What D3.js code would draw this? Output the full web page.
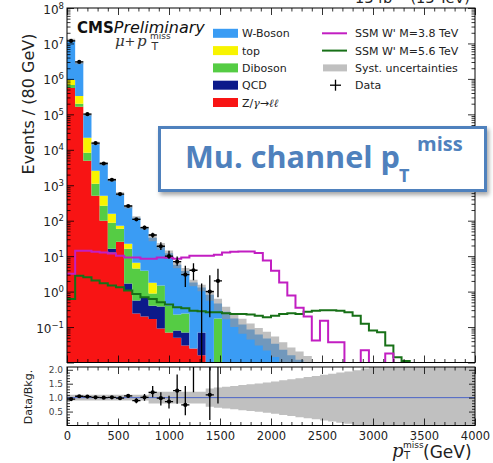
<!DOCTYPE html>
<html>
<head>
<meta charset="utf-8">
<script src="https://cdn.jsdelivr.net/npm/d3@7"></script>
<style>
  body { margin: 0; background: #fff; }
  svg { display: block; }
</style>
</head>
<body>
<svg id="chart" width="493" height="463"></svg>
<script>
// 80 GeV bins from 0 to 4000 GeV
var binW = 80, nBins = 50;
var binEdges = d3.range(nBins + 1).map(function(i) { return i * binW; });

// stacked backgrounds (events / bin), bins past the end of a list are empty
var zll  = [557000, 163000, 4900, 506, 100, 12.6, 25.6, 1.07, 0.24, 0.20, 0.17, 0.091, 0.070, 0.050, 0.030, 0.025, 0.016];
var qcd  = [0, 0, 0, 0, 0, 3.7, 0, 0.61, 0.32, 0.48, 0.23, 0.29, 0, 0.03, 0.04, 0, 0.054];
var dib  = [120000, 35000, 3300, 596, 165, 71.5, 33.9, 14.6, 3.9, 3.2, 0.48, 1.10, 0.33, 0.145, 0.17, 0, 0, 0, 0.174];
var topq = [260000, 134000, 13600, 1460, 241, 69, 12.8, 6.2, 2.1, 0, 0.91];
var wbos = [11450000, 2540000, 75700, 12700, 3600, 1250, 504, 222, 115, 58.8, 31.4, 17.8, 11.6, 5.54, 3.56,
            1.77, 1.23, 0.82, 0.285, 0.27, 0.174, 0.118, 0.085, 0.062, 0.0475, 0.034, 0.023, 0.016, 0.012, 0.0088];

// signal shapes
var sigM38 = [3.2, 14.3, 14.3, 13.4, 12.6, 11.8, 10.3, 9.1, 9.1, 8.5,
              8.5, 9.1, 9.0, 8.5, 9.1, 10.3, 10.3, 10.3, 11.0, 12.6,
              13.4, 13.6, 13.6, 12.2, 7.5, 3.9, 1.8, 0.77, 0.35, 0.20,
              0.042, 0.15, 0.037, 0.037, 0, 0, 0.022, 0, 0, 0.018,
              0, 0, 0, 0, 0, 0, 0, 0, 0, 0];
var sigM56 = [0.62, 2.8, 2.53, 2.04, 1.71, 1.48, 1.32, 1.07, 0.86, 0.69,
              0.62, 0.50, 0.43, 0.36, 0.34, 0.29, 0.28, 0.26, 0.26, 0.245,
              0.235, 0.235, 0.225, 0.21, 0.19, 0.21, 0.235, 0.245, 0.235, 0.27,
              0.29, 0.30, 0.30, 0.29, 0.26, 0.21, 0.123, 0.080, 0.071, 0.030,
              0.014, 0.011, 0, 0, 0, 0, 0, 0, 0, 0];

// data with error bar ends
var dataVals = [11750000, 3010000, 101000, 15450, 4110, 1430, 565, 260, 109, 63.5, 39.5, 19, 10, 7, 3, 4, 0, 1, 2];
var dataHi   = [11753400, 3011700, 101320, 15575, 4175, 1468, 589, 276, 119.5, 71.5, 46, 24.5, 14.3, 9.7, 5.4, 6.3, 1.7, 2.9, 4.4];
var dataLo   = [11746600, 3008300, 100680, 15325, 4045, 1392, 541, 244, 98.5, 55.5, 33, 15, 8.5, 5.4, 1.35, 2.1, 0, 0.19, 0.69];

// ratio panel
var ratioVals = [0.95, 1.05, 1.04, 1.01, 1.00, 1.01, 0.98, 1.06, 0.89, 1.01, 1.19, 0.98, 0.86, 1.25, 0.74, 2.26, null, 1.10, 4.2];
var ratioHi   = [0.96, 1.06, 1.05, 1.02, 1.02, 1.04, 1.03, 1.13, 0.98, 1.13, 1.42, 1.19, 1.07, 1.83, 1.42, 3.6, null, 3.4, 9.6];
var ratioLo   = [0.94, 1.04, 1.03, 1.00, 0.98, 0.98, 0.93, 0.99, 0.80, 0.89, 1.01, 0.72, 0.61, 0.78, 0.37, 1.19, null, 0.20, 0.79];

// relative systematic uncertainty per bin
var systRel = [0.10, 0.10, 0.10, 0.10, 0.10, 0.10, 0.10, 0.10, 0.10, 0.10,
               0.21, 0.21, 0.21, 0.21, 0.21, 0.21, 0.21, 0.33, 0.36, 0.39,
               0.42, 0.45, 0.48, 0.51, 0.54, 0.58, 0.62, 0.66, 0.70, 0.74,
               0.78, 0.82, 0.86, 0.90, 0.94, 0.98, 1.05, 1.2, 1.2, 1.2,
               1.2, 1.2, 1.2, 1.2, 1.2, 1.2, 1.2, 1.2, 1.2, 1.2];

var xTickVals = [0, 500, 1000, 1500, 2000, 2500, 3000, 3500, 4000];
var ratioTickVals = [0.5, 1.0, 1.5, 2.0];

var keys = ["zll", "qcd", "dib", "top", "wbos"];
var colors = {zll: "#f81414", qcd: "#0c1a8a", dib: "#55cc44", top: "#f8f400", wbos: "#3a9cf4"};
var sigColor38 = "#c21ec2", sigColor56 = "#177017";

var svg = d3.select("#chart");
var mainB = {l: 67, r: 475, t: 8, b: 362.5};
var ratB = {t: 367, b: 425.5};

var x = d3.scaleLinear().domain([0, 4000]).range([mainB.l, mainB.r]);
var y = d3.scaleLog().domain([1e-2, 1e8]).range([mainB.b, mainB.t]);
var yr = d3.scaleLinear().domain([0, 2.1]).range([ratB.b, ratB.t]);

function ym(v) { return v > 0 ? y(v) : mainB.b + 4; }
function yrr(v) { return Math.max(ratB.t - 4, Math.min(ratB.b + 4, yr(v))); }

var defs = svg.append("defs");
defs.append("clipPath").attr("id", "clipMain").append("rect")
  .attr("x", mainB.l).attr("y", mainB.t).attr("width", mainB.r - mainB.l).attr("height", mainB.b - mainB.t);
defs.append("clipPath").attr("id", "clipRat").append("rect")
  .attr("x", mainB.l).attr("y", ratB.t).attr("width", mainB.r - mainB.l).attr("height", ratB.b - ratB.t);
var shadow = defs.append("filter").attr("id", "shadow")
  .attr("x", "-10%").attr("y", "-20%").attr("width", "130%").attr("height", "160%");
shadow.append("feDropShadow").attr("dx", 2).attr("dy", 3).attr("stdDeviation", 2)
  .attr("flood-color", "#000").attr("flood-opacity", 0.35);

var gMain = svg.append("g").attr("clip-path", "url(#clipMain)");
var gRat = svg.append("g").attr("clip-path", "url(#clipRat)");

// ---- stacked backgrounds
var rows = d3.range(nBins).map(function(i) {
  return {zll: zll[i] || 0, qcd: qcd[i] || 0, dib: dib[i] || 0, top: topq[i] || 0, wbos: wbos[i] || 0};
});
var stacked = d3.stack().keys(keys)(rows);

var stepArea = d3.area().curve(d3.curveStepAfter)
  .x(function(d) { return x(d.e); })
  .y0(function(d) { return ym(d.lo); })
  .y1(function(d) { return ym(d.hi); });

stacked.forEach(function(layer) {
  var pts = d3.range(nBins + 1).map(function(i) {
    var s = layer[Math.min(i, nBins - 1)];
    return {e: binEdges[i], lo: s[0], hi: s[1]};
  });
  gMain.append("path").attr("d", stepArea(pts)).attr("fill", colors[layer.key]);
});

// ---- syst band on the total
var totals = rows.map(function(r) { return r.zll + r.qcd + r.dib + r.top + r.wbos; });
var lastBkg = d3.max(d3.range(nBins).filter(function(i) { return totals[i] > 0; }));
var bandPts = d3.range(lastBkg + 2).map(function(i) {
  var b = Math.min(i, lastBkg);
  return {e: binEdges[i], lo: totals[b] * (1 - systRel[b]), hi: totals[b] * (1 + systRel[b])};
});
gMain.append("path").attr("d", stepArea(bandPts))
  .attr("fill", "#969696").attr("fill-opacity", 0.6);

// ---- signals
var stepLine = d3.line().curve(d3.curveStepAfter)
  .x(function(d) { return x(d.e); })
  .y(function(d) { return ym(d.v); });

function sigPoints(vals) {
  var last = d3.max(d3.range(vals.length).filter(function(i) { return vals[i] > 0; }));
  var pts = d3.range(last + 1).map(function(i) { return {e: binEdges[i], v: vals[i]}; });
  pts.push({e: binEdges[last + 1], v: vals[last]});
  pts.push({e: binEdges[last + 1], v: 0});
  return pts;
}
gMain.append("path").attr("d", stepLine(sigPoints(sigM56)))
  .attr("fill", "none").attr("stroke", sigColor56).attr("stroke-width", 2);
gMain.append("path").attr("d", stepLine(sigPoints(sigM38)))
  .attr("fill", "none").attr("stroke", sigColor38).attr("stroke-width", 2);

// ---- data
var dataRows = dataVals.map(function(v, i) { return {i: i, v: v, hi: dataHi[i], lo: dataLo[i]}; });
var dp = gMain.selectAll("g.dp").data(dataRows).join("g").attr("class", "dp")
  .attr("stroke", "#000").attr("stroke-width", 1.3);
dp.append("line")
  .attr("x1", function(d) { return x(binEdges[d.i] + binW / 2); })
  .attr("x2", function(d) { return x(binEdges[d.i] + binW / 2); })
  .attr("y1", function(d) { return ym(d.hi); })
  .attr("y2", function(d) { return ym(d.lo); });
dp.filter(function(d) { return d.v > 0; }).append("line")
  .attr("x1", function(d) { return x(binEdges[d.i]); })
  .attr("x2", function(d) { return x(binEdges[d.i + 1]); })
  .attr("y1", function(d) { return ym(d.v); })
  .attr("y2", function(d) { return ym(d.v); });
dp.filter(function(d) { return d.v > 0; }).append("circle")
  .attr("cx", function(d) { return x(binEdges[d.i] + binW / 2); })
  .attr("cy", function(d) { return ym(d.v); })
  .attr("r", 2.1).attr("fill", "#000").attr("stroke", "none");

// ---- ratio panel
var rBand = d3.range(nBins + 1).map(function(i) {
  var b = Math.min(i, nBins - 1);
  return {e: binEdges[i], lo: 1 - systRel[b], hi: 1 + systRel[b]};
});
gRat.append("path")
  .attr("d", d3.area().curve(d3.curveStepAfter)
    .x(function(d) { return x(d.e); })
    .y0(function(d) { return yrr(d.lo); })
    .y1(function(d) { return yrr(d.hi); })(rBand))
  .attr("fill", "#969696").attr("fill-opacity", 0.6);
gRat.append("line").attr("x1", mainB.l).attr("x2", mainB.r)
  .attr("y1", yr(1)).attr("y2", yr(1)).attr("stroke", "#4a63c8").attr("stroke-width", 1);

var ratRows = ratioVals.map(function(v, i) { return {i: i, v: v, hi: ratioHi[i], lo: ratioLo[i]}; })
  .filter(function(d) { return d.v != null; });
var rp = gRat.selectAll("g.rp").data(ratRows).join("g").attr("class", "rp")
  .attr("stroke", "#000").attr("stroke-width", 1.3);
rp.append("line")
  .attr("x1", function(d) { return x(binEdges[d.i] + binW / 2); })
  .attr("x2", function(d) { return x(binEdges[d.i] + binW / 2); })
  .attr("y1", function(d) { return yrr(d.hi); })
  .attr("y2", function(d) { return yrr(d.lo); });
rp.append("line")
  .attr("x1", function(d) { return x(binEdges[d.i]); })
  .attr("x2", function(d) { return x(binEdges[d.i + 1]); })
  .attr("y1", function(d) { return yr(d.v); })
  .attr("y2", function(d) { return yr(d.v); });
rp.append("circle")
  .attr("cx", function(d) { return x(binEdges[d.i] + binW / 2); })
  .attr("cy", function(d) { return yr(d.v); })
  .attr("r", 2.1).attr("fill", "#000").attr("stroke", "none");

// ---- axes / ticks
var xMinor = d3.range(100, 4000, 100).filter(function(v) { return v % 500 !== 0; });
var yMajor = d3.range(-2, 9).map(function(k) { return Math.pow(10, k); });
var yMinor = [];
d3.range(-2, 8).forEach(function(k) {
  d3.range(2, 10).forEach(function(m) { yMinor.push(m * Math.pow(10, k)); });
});
var rMinor = d3.range(1, 21).filter(function(i) { return i % 5 !== 0; }).map(function(i) { return i / 10; });

function ticks(axisFn, scale, vals, size, tr) {
  var g = svg.append("g").attr("transform", tr)
    .call(axisFn(scale).tickValues(vals).tickSize(-size).tickFormat(""));
  g.select(".domain").remove();
  g.selectAll("line").attr("stroke", "#000").attr("stroke-width", 0.8);
  return g;
}

// main panel
ticks(d3.axisBottom, x, xTickVals, 7, "translate(0," + mainB.b + ")");
ticks(d3.axisBottom, x, xMinor, 3.5, "translate(0," + mainB.b + ")");
ticks(d3.axisTop, x, xTickVals, 7, "translate(0," + mainB.t + ")");
ticks(d3.axisTop, x, xMinor, 3.5, "translate(0," + mainB.t + ")");
ticks(d3.axisLeft, y, yMajor, 7, "translate(" + mainB.l + ",0)");
ticks(d3.axisLeft, y, yMinor, 3.5, "translate(" + mainB.l + ",0)");
ticks(d3.axisRight, y, yMajor, 7, "translate(" + mainB.r + ",0)");
ticks(d3.axisRight, y, yMinor, 3.5, "translate(" + mainB.r + ",0)");

// ratio panel
ticks(d3.axisTop, x, xTickVals, 7, "translate(0," + ratB.t + ")");
ticks(d3.axisTop, x, xMinor, 3.5, "translate(0," + ratB.t + ")");
ticks(d3.axisBottom, x, xMinor, 3.5, "translate(0," + ratB.b + ")");
ticks(d3.axisLeft, yr, rMinor, 3, "translate(" + mainB.l + ",0)");
ticks(d3.axisRight, yr, ratioTickVals, 6, "translate(" + mainB.r + ",0)");
ticks(d3.axisRight, yr, rMinor, 3, "translate(" + mainB.r + ",0)");

// labelled axes
var gx = svg.append("g").attr("transform", "translate(0," + ratB.b + ")")
  .call(d3.axisBottom(x).tickValues(xTickVals).tickSize(-7).tickPadding(6).tickFormat(d3.format("d")));
gx.select(".domain").remove();
gx.selectAll("line").attr("stroke", "#000").attr("stroke-width", 0.8);
gx.selectAll("text").attr("font-family", "DejaVu Sans").attr("font-size", 11.5).attr("fill", "#222");

var gy = svg.append("g").attr("transform", "translate(" + mainB.l + ",0)")
  .call(d3.axisLeft(y).tickValues(yMajor.filter(function(v) { return v > 0.05; })).tickSize(0).tickPadding(3));
gy.select(".domain").remove();
gy.selectAll("text").each(function(d) {
  var t = d3.select(this).text("").attr("font-family", "DejaVu Sans").attr("font-size", 12)
    .attr("fill", "#222").attr("dy", "0.42em");
  var e = Math.round(Math.log10(d));
  t.append("tspan").text("10");
  t.append("tspan").attr("font-size", 8.5).attr("dy", -5).text(String(e).replace("-", "\u2212"));
});

var gyr = svg.append("g").attr("transform", "translate(" + mainB.l + ",0)")
  .call(d3.axisLeft(yr).tickValues(ratioTickVals).tickSize(-6).tickPadding(4).tickFormat(d3.format(".1f")));
gyr.select(".domain").remove();
gyr.selectAll("line").attr("stroke", "#000").attr("stroke-width", 0.8);
gyr.selectAll("text").attr("font-family", "DejaVu Sans").attr("font-size", 9).attr("fill", "#444");

// frames
svg.append("rect").attr("x", mainB.l).attr("y", mainB.t).attr("width", mainB.r - mainB.l)
  .attr("height", mainB.b - mainB.t).attr("fill", "none").attr("stroke", "#000").attr("stroke-width", 1);
svg.append("rect").attr("x", mainB.l).attr("y", ratB.t).attr("width", mainB.r - mainB.l)
  .attr("height", ratB.b - ratB.t).attr("fill", "none").attr("stroke", "#000").attr("stroke-width", 1);

// ---- axis titles
svg.append("text").attr("transform", "translate(34,104) rotate(-90)")
  .attr("text-anchor", "middle").attr("font-family", "DejaVu Sans").attr("font-size", 16)
  .attr("fill", "#222").text("Events / (80 GeV)");
svg.append("text").attr("transform", "translate(32,397) rotate(-90)")
  .attr("text-anchor", "middle").attr("font-family", "DejaVu Sans").attr("font-size", 11)
  .attr("fill", "#222").text("Data/Bkg.");

var xt = svg.append("g").attr("fill", "#222");
xt.append("text").attr("x", 392).attr("y", 457).attr("font-family", "DejaVu Serif")
  .attr("font-style", "italic").attr("font-size", 18).text("p");
xt.append("text").attr("x", 403).attr("y", 448).attr("font-family", "DejaVu Sans")
  .attr("font-size", 9).text("miss");
xt.append("text").attr("x", 404).attr("y", 459).attr("font-family", "DejaVu Sans")
  .attr("font-size", 10).text("T");
xt.append("text").attr("x", 423).attr("y", 458).attr("font-family", "DejaVu Sans")
  .attr("font-size", 17).text("(GeV)");

// lumi text, cut at the top edge
svg.append("text").attr("x", 470).attr("y", 3).attr("text-anchor", "end")
  .attr("font-family", "DejaVu Sans").attr("font-size", 14.5).attr("fill", "#222")
  .text("13 fb\u207B\u00B9 (13 TeV)");

// ---- CMS label
var cms = svg.append("text").attr("x", 77).attr("y", 33).attr("font-family", "DejaVu Sans").attr("fill", "#111");
cms.append("tspan").attr("font-weight", "bold").attr("font-size", 15).text("CMS");
cms.append("tspan").attr("font-style", "italic").attr("font-size", 16).text("Preliminary");

var chan = svg.append("g").attr("fill", "#333");
chan.append("text").attr("x", 115).attr("y", 46).attr("font-family", "DejaVu Serif")
  .attr("font-style", "italic").attr("font-size", 15).text("\u03BC");
chan.append("text").attr("x", 124.5).attr("y", 46).attr("font-family", "DejaVu Serif")
  .attr("font-size", 13).text("+");
chan.append("text").attr("x", 137).attr("y", 46).attr("font-family", "DejaVu Serif")
  .attr("font-style", "italic").attr("font-size", 15).text("p");
chan.append("text").attr("x", 150).attr("y", 39).attr("font-family", "DejaVu Sans")
  .attr("font-size", 9).text("miss");
chan.append("text").attr("x", 151.5).attr("y", 50).attr("font-family", "DejaVu Sans")
  .attr("font-size", 11).text("T");

// ---- legend
var legRowY = [33.3, 50.6, 67.9, 85.2, 102.5];
var legLeft = [
  {key: "wbos", label: "W-Boson"},
  {key: "top", label: "top"},
  {key: "dib", label: "Diboson"},
  {key: "qcd", label: "QCD"},
  {key: "zll", label: null}
];
var gl = svg.append("g").attr("font-family", "DejaVu Sans").attr("font-size", 11).attr("fill", "#222");
legLeft.forEach(function(d, i) {
  gl.append("rect").attr("x", 213).attr("y", legRowY[i] - 4.5).attr("width", 25).attr("height", 9)
    .attr("fill", colors[d.key]);
  var t = gl.append("text").attr("x", 242).attr("y", legRowY[i] + 4);
  if (d.label) { t.text(d.label); }
  else {
    t.append("tspan").text("Z/");
    t.append("tspan").attr("font-family", "DejaVu Serif").attr("font-style", "italic").text("\u03B3");
    t.append("tspan").text("\u2192");
    t.append("tspan").attr("font-family", "DejaVu Serif").attr("font-style", "italic").text("\u2113\u2113");
  }
});
gl.append("line").attr("x1", 322).attr("x2", 347).attr("y1", legRowY[0]).attr("y2", legRowY[0])
  .attr("stroke", sigColor38).attr("stroke-width", 2);
gl.append("text").attr("x", 355).attr("y", legRowY[0] + 4).text("SSM W' M=3.8 TeV");
gl.append("line").attr("x1", 322).attr("x2", 347).attr("y1", legRowY[1]).attr("y2", legRowY[1])
  .attr("stroke", sigColor56).attr("stroke-width", 2);
gl.append("text").attr("x", 355).attr("y", legRowY[1] + 4).text("SSM W' M=5.6 TeV");
gl.append("rect").attr("x", 323).attr("y", legRowY[2] - 3.5).attr("width", 24).attr("height", 7)
  .attr("fill", "#969696").attr("fill-opacity", 0.6);
gl.append("text").attr("x", 355).attr("y", legRowY[2] + 4).text("Syst. uncertainties");
gl.append("line").attr("x1", 330).attr("x2", 341).attr("y1", legRowY[3]).attr("y2", legRowY[3])
  .attr("stroke", "#000").attr("stroke-width", 1.3);
gl.append("line").attr("x1", 335.5).attr("x2", 335.5).attr("y1", legRowY[3] - 5.5).attr("y2", legRowY[3] + 5.5)
  .attr("stroke", "#000").attr("stroke-width", 1.3);
gl.append("text").attr("x", 355).attr("y", legRowY[3] + 4).text("Data");

// ---- overlay callout box
var box = svg.append("g");
box.append("rect").attr("x", 159.5).attr("y", 127.5).attr("width", 326).attr("height", 63)
  .attr("fill", "#fff").attr("stroke", "#4f81bd").attr("stroke-width", 3).attr("filter", "url(#shadow)");
var boxText = box.append("g").attr("fill", "#4f81bd").attr("font-family", "Open Sans").attr("font-weight", "bold");
var mainT = boxText.append("text").attr("x", 185).attr("y", 168).attr("font-size", 32).text("Mu. channel p");
// fit the main words so that the p ends where the reference puts it
var len = mainT.node().getComputedTextLength();
mainT.attr("font-size", 32 * 215 / len);
var pEnd = 185 + mainT.node().getComputedTextLength();
var subT = boxText.append("text").attr("x", pEnd - 1).attr("y", 182).attr("font-size", 18).text("T");
boxText.append("text").attr("x", Math.max(417, pEnd + subT.node().getComputedTextLength() + 4))
  .attr("y", 151).attr("font-size", 20).text("miss");
</script>
</body>
</html>
